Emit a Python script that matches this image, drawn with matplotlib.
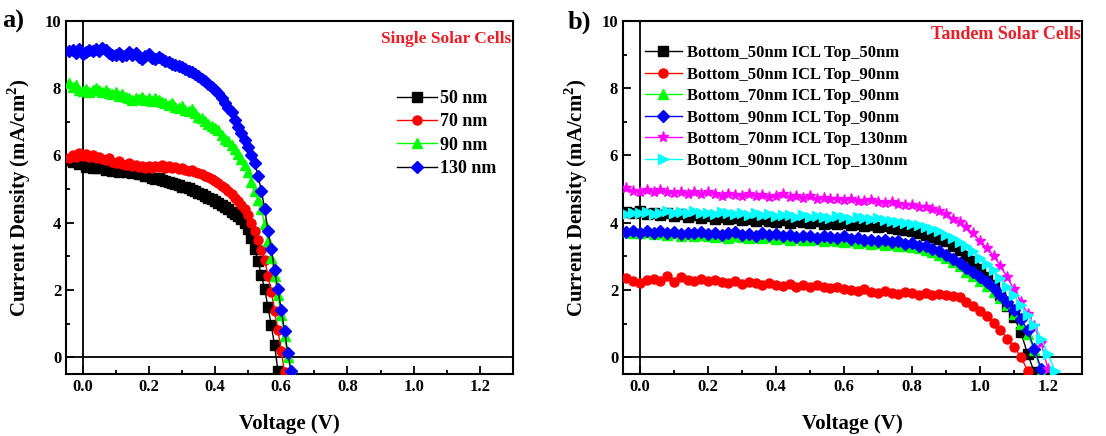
# J-V curves of single and tandem solar cells
import matplotlib
matplotlib.use('Agg')
import matplotlib.pyplot as plt
from matplotlib.ticker import MultipleLocator

plt.rcParams['font.family'] = ['Liberation Serif', 'DejaVu Serif']
plt.rcParams['font.weight'] = 'bold'
plt.rcParams['mathtext.fontset'] = 'custom'
plt.rcParams['mathtext.rm'] = 'Liberation Serif:bold'
plt.rcParams['mathtext.bf'] = 'Liberation Serif:bold'

# ---- panel a: single cells, voltage step 0.01 V ----
V_a = [-0.04, -0.03, -0.02, -0.01, 0.00, 0.01, 0.02, 0.03, 0.04, 0.05,
       0.06, 0.07, 0.08, 0.09, 0.10, 0.11, 0.12, 0.13, 0.14, 0.15,
       0.16, 0.17, 0.18, 0.19, 0.20, 0.21, 0.22, 0.23, 0.24, 0.25,
       0.26, 0.27, 0.28, 0.29, 0.30, 0.31, 0.32, 0.33, 0.34, 0.35,
       0.36, 0.37, 0.38, 0.39, 0.40, 0.41, 0.42, 0.43, 0.44, 0.45,
       0.46, 0.47, 0.48, 0.49, 0.50, 0.51, 0.52, 0.53, 0.54, 0.55,
       0.56, 0.57, 0.58, 0.59, 0.60, 0.61, 0.62, 0.63]

J_50 = [5.86, 5.80, 5.84, 5.74, 5.77, 5.66, 5.72, 5.64, 5.68, 5.62,
        5.65, 5.58, 5.62, 5.55, 5.60, 5.52, 5.56, 5.50, 5.54, 5.47,
        5.50, 5.44, 5.46, 5.40, 5.38, 5.34, 5.30, 5.32, 5.26, 5.24,
        5.22, 5.18, 5.16, 5.12, 5.07, 5.05, 5.02, 4.98, 4.94, 4.88,
        4.84, 4.80, 4.75, 4.70, 4.64, 4.58, 4.52, 4.46, 4.40, 4.33,
        4.27, 4.20, 4.10, 3.98, 3.80, 3.55, 3.22, 2.85, 2.45, 2.02,
        1.50, 0.95, 0.35, -0.40]
J_70 = [5.92, 6.02, 5.96, 6.07, 5.98, 6.04, 5.94, 6.00, 5.92, 5.96,
        5.90, 5.86, 5.92, 5.82, 5.78, 5.84, 5.75, 5.72, 5.78, 5.68,
        5.72, 5.65, 5.70, 5.62, 5.68, 5.64, 5.70, 5.66, 5.72, 5.64,
        5.68, 5.62, 5.66, 5.60, 5.62, 5.58, 5.55, 5.56, 5.52, 5.48,
        5.45, 5.40, 5.36, 5.30, 5.25, 5.18, 5.10, 5.02, 4.95, 4.86,
        4.75, 4.65, 4.52, 4.40, 4.22, 4.00, 3.75, 3.48, 3.20, 2.90,
        2.42, 1.95, 1.38, 0.80, 0.20, -0.45]
J_90 = [8.15, 8.05, 8.10, 7.96, 7.92, 7.98, 7.90, 7.95, 8.02, 7.96,
        7.90, 7.94, 7.86, 7.82, 7.88, 7.78, 7.82, 7.75, 7.70, 7.66,
        7.72, 7.68, 7.74, 7.66, 7.70, 7.62, 7.72, 7.64, 7.58, 7.55,
        7.50, 7.56, 7.45, 7.40, 7.46, 7.35, 7.32, 7.38, 7.25, 7.15,
        7.10, 7.02, 6.95, 6.88, 6.82, 6.75, 6.62, 6.50, 6.42, 6.30,
        6.18, 6.05, 5.90, 5.72, 5.50, 5.22, 4.95, 4.68, 4.40, 3.95,
        3.45, 2.95, 2.42, 1.85, 1.25, 0.62, 0.02, -0.45]
J_130 = [9.10, 9.14, 9.06, 9.16, 9.02, 9.08, 9.14, 9.10, 9.16, 9.12,
         9.20, 9.15, 9.06, 9.00, 8.98, 9.04, 8.95, 9.00, 9.08, 8.98,
         9.04, 8.92, 8.88, 8.95, 9.02, 8.90, 8.86, 8.93, 8.86, 8.80,
         8.78, 8.72, 8.70, 8.65, 8.62, 8.56, 8.52, 8.48, 8.42, 8.36,
         8.28, 8.20, 8.12, 8.04, 7.95, 7.86, 7.72, 7.55, 7.40, 7.28,
         7.05, 6.85, 6.68, 6.45, 6.25, 6.02, 5.78, 5.40, 4.95, 4.42,
         3.75, 3.22, 2.58, 2.02, 1.42, 0.78, 0.12, -0.42]

labels_a = ['50 nm', '70 nm', '90 nm', '130 nm']
colors_a = ['black', 'red', '#00ff00', 'blue']
markers_a = ['s', 'o', '^', 'D']

# ---- panel b: tandem cells, voltage step 0.02 V ----
V_b = [-0.04, -0.02, 0.00, 0.02, 0.04, 0.06, 0.08, 0.10, 0.12, 0.14,
       0.16, 0.18, 0.20, 0.22, 0.24, 0.26, 0.28, 0.30, 0.32, 0.34,
       0.36, 0.38, 0.40, 0.42, 0.44, 0.46, 0.48, 0.50, 0.52, 0.54,
       0.56, 0.58, 0.60, 0.62, 0.64, 0.66, 0.68, 0.70, 0.72, 0.74,
       0.76, 0.78, 0.80, 0.82, 0.84, 0.86, 0.88, 0.90, 0.92, 0.94,
       0.96, 0.98, 1.00, 1.02, 1.04, 1.06, 1.08, 1.10, 1.12, 1.14,
       1.16, 1.18, 1.20, 1.22]

J_b50_t50 = [4.32, 4.28, 4.35, 4.25, 4.30, 4.22, 4.28, 4.20, 4.25, 4.18,
             4.22, 4.15, 4.20, 4.12, 4.18, 4.10, 4.15, 4.08, 4.12, 4.05,
             4.10, 4.06, 4.02, 4.08, 4.00, 4.05, 4.02, 3.98, 4.04, 3.96,
             4.00, 3.95, 3.98, 3.92, 3.96, 3.90, 3.94, 3.88, 3.90, 3.85,
             3.82, 3.78, 3.74, 3.70, 3.64, 3.58, 3.52, 3.45, 3.32, 3.18,
             3.02, 2.85, 2.62, 2.40, 2.15, 1.85, 1.52, 1.20, 0.75, 0.10,
             -0.45]
J_b50_t90 = [2.35, 2.28, 2.22, 2.30, 2.34, 2.26, 2.42, 2.25, 2.38, 2.30,
             2.27, 2.32, 2.28, 2.30, 2.24, 2.22, 2.28, 2.18, 2.25, 2.20,
             2.15, 2.22, 2.16, 2.12, 2.18, 2.10, 2.15, 2.08, 2.14, 2.10,
             2.05, 2.08, 2.02, 2.00, 1.98, 2.02, 1.95, 1.92, 1.98, 1.90,
             1.88, 1.95, 1.92, 1.86, 1.90, 1.85, 1.88, 1.86, 1.82, 1.78,
             1.65, 1.52, 1.38, 1.22, 1.02, 0.82, 0.55, 0.30, 0.02, -0.40]
J_b70_t90 = [3.75, 3.70, 3.68, 3.72, 3.66, 3.70, 3.64, 3.68, 3.62, 3.66,
             3.60, 3.64, 3.62, 3.58, 3.62, 3.56, 3.60, 3.58, 3.55, 3.58,
             3.55, 3.58, 3.52, 3.56, 3.50, 3.54, 3.50, 3.48, 3.52, 3.46,
             3.50, 3.45, 3.42, 3.46, 3.40, 3.42, 3.38, 3.40, 3.35, 3.36,
             3.32, 3.30, 3.28, 3.26, 3.20, 3.12, 3.05, 2.95, 2.82, 2.70,
             2.55, 2.42, 2.28, 2.12, 1.95, 1.75, 1.55, 1.30, 1.00, 0.68,
             0.22, -0.45]
J_b90_t90 = [3.72, 3.75, 3.70, 3.74, 3.68, 3.76, 3.70, 3.72, 3.66, 3.70,
             3.68, 3.72, 3.66, 3.70, 3.65, 3.68, 3.72, 3.64, 3.66, 3.62,
             3.68, 3.64, 3.66, 3.60, 3.64, 3.58, 3.62, 3.60, 3.56, 3.62,
             3.58, 3.55, 3.60, 3.52, 3.56, 3.50, 3.48, 3.45, 3.50, 3.42,
             3.45, 3.38, 3.40, 3.32, 3.30, 3.22, 3.15, 3.05, 2.92, 2.80,
             2.65, 2.55, 2.40, 2.25, 2.05, 1.85, 1.65, 1.40, 1.15, 0.80,
             0.25, -0.35]
J_b70_t130 = [5.02, 4.95, 4.90, 4.96, 4.92, 4.97, 4.90, 4.88, 4.92, 4.86,
              4.90, 4.85, 4.92, 4.84, 4.80, 4.86, 4.82, 4.80, 4.84, 4.78,
              4.82, 4.76, 4.80, 4.84, 4.76, 4.78, 4.74, 4.78, 4.72, 4.74,
              4.70, 4.72, 4.68, 4.70, 4.66, 4.64, 4.68, 4.62, 4.60, 4.62,
              4.56, 4.54, 4.52, 4.48, 4.46, 4.40, 4.34, 4.26, 4.12, 4.02,
              3.86, 3.68, 3.46, 3.25, 3.02, 2.72, 2.38, 2.02, 1.65, 1.30,
              0.92, 0.42, -0.35]
J_b90_t130 = [4.25, 4.30, 4.28, 4.32, 4.26, 4.30, 4.35, 4.28, 4.32, 4.30,
              4.34, 4.28, 4.30, 4.26, 4.32, 4.28, 4.25, 4.30, 4.24, 4.28,
              4.22, 4.26, 4.20, 4.24, 4.22, 4.18, 4.22, 4.16, 4.20, 4.18,
              4.15, 4.20, 4.16, 4.12, 4.18, 4.14, 4.10, 4.15, 4.08, 4.06,
              4.02, 4.00, 3.96, 3.92, 3.88, 3.82, 3.75, 3.65, 3.55, 3.42,
              3.30, 3.15, 2.95, 2.78, 2.58, 2.35, 2.10, 1.85, 1.55, 1.25,
              0.95, 0.55, 0.10, -0.40]

labels_b = ['Bottom_50nm ICL Top_50nm', 'Bottom_50nm ICL Top_90nm',
            'Bottom_70nm ICL Top_90nm', 'Bottom_90nm ICL Top_90nm',
            'Bottom_70nm ICL Top_130nm', 'Bottom_90nm ICL Top_130nm']
colors_b = ['black', 'red', '#00ff00', 'blue', '#ff00ff', '#00ffff']
markers_b = ['s', 'o', '^', 'D', '*', '>']

fig = plt.figure(figsize=(11.06, 4.36), dpi=100)
ax1 = fig.add_axes([0.0597, 0.142, 0.4041, 0.810])
ax2 = fig.add_axes([0.5633, 0.142, 0.4150, 0.810])


def style_axis(ax):
    ax.set_xlim(-0.05, 1.3)
    ax.set_ylim(-0.5, 10)
    ax.axhline(0, color='black', lw=1.3, zorder=1)
    ax.axvline(0, color='black', lw=1.3, zorder=1)
    ax.xaxis.set_major_locator(MultipleLocator(0.2))
    ax.xaxis.set_minor_locator(MultipleLocator(0.1))
    ax.yaxis.set_major_locator(MultipleLocator(2))
    ax.yaxis.set_minor_locator(MultipleLocator(1))
    ax.tick_params(which='both', direction='in', top=False, right=False,
                   labelsize=12, width=1.3)
    ax.tick_params(which='major', length=6)
    ax.tick_params(which='minor', length=3)
    ax.set_xticklabels([f'{t:.1f}' for t in ax.get_xticks()])
    for s in ax.spines.values():
        s.set_linewidth(1.5)
    ax.set_xlabel('Voltage (V)', fontsize=15, fontweight='bold', labelpad=14)
    ax.set_ylabel(r'Current Density (mA/cm$^2$)', fontsize=15,
                  fontweight='bold', labelpad=8)


style_axis(ax1)
curves_a = [J_50, J_70, J_90, J_130]
for J, lab, c, m in zip(curves_a, labels_a, colors_a, markers_a):
    ms = 6 if m == 'D' else 6.5
    ax1.plot(V_a[:len(J)], J, color='black' if m == 'D' else c, lw=1,
             marker=m, markersize=ms, markerfacecolor=c, markeredgecolor=c,
             label=lab, zorder=3)
ax1.legend(loc='upper left', bbox_to_anchor=(0.72, 0.83), frameon=False,
           fontsize=13, handlelength=2.2, handletextpad=0.2,
           labelspacing=0.35, borderpad=0)
ax1.text(0.997, 0.95, 'Single Solar Cells', transform=ax1.transAxes,
         color='#ee1c24', fontsize=12.5, fontweight='bold',
         ha='right', va='center')

style_axis(ax2)
curves_b = [J_b50_t50, J_b50_t90, J_b70_t90, J_b90_t90, J_b70_t130, J_b90_t130]
for J, lab, c, m in zip(curves_b, labels_b, colors_b, markers_b):
    ms = 8 if m == '*' else 6.5
    ax2.plot(V_b[:len(J)], J, color=c, lw=1, marker=m, markersize=ms,
             markerfacecolor=c, markeredgecolor=c, label=lab, zorder=3)
ax2.legend(loc='upper left', bbox_to_anchor=(0.03, 0.955), frameon=False,
           fontsize=12, handlelength=2.2, handletextpad=0.3,
           labelspacing=0.33, borderpad=0)
ax2.text(0.997, 0.962, 'Tandem Solar Cells', transform=ax2.transAxes,
         color='#ee1c24', fontsize=13, fontweight='bold',
         ha='right', va='center')

fig.text(0.002, 0.95, 'a)', fontsize=19, fontweight='bold', va='center')
fig.text(0.513, 0.95, 'b)', fontsize=19, fontweight='bold', va='center')

fig.savefig('out.png', dpi=100)
